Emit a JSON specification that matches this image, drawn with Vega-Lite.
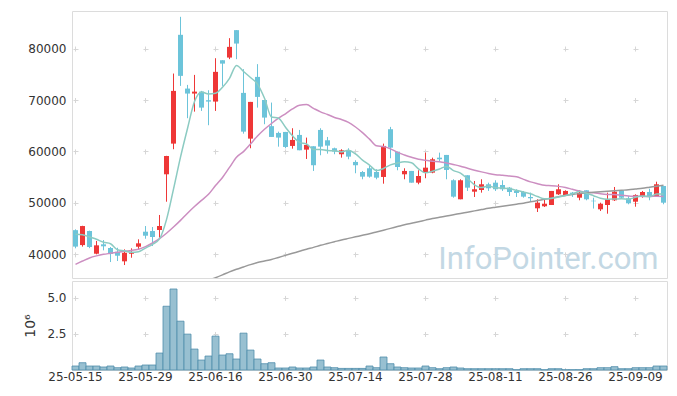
{
  "$schema": "https://vega.github.io/schema/vega-lite/v6.json",
  "padding": {"left": 23, "top": 10, "right": 0, "bottom": 0},
  "background": "white",
  "spacing": 1,
  "config": {
    "view": {"stroke": "#dcdcdc", "strokeWidth": 1},
    "axis": {"labelFont": "DejaVu Sans", "labelFontSize": 12, "labelColor": "#333333", "titleFont": "DejaVu Sans", "titleFontSize": 14, "titleFontWeight": "normal", "titleColor": "#333333", "gridColor": "#d6d6d6", "gridWidth": 1}
  },
  "resolve": {"scale": {"x": "independent"}},
  "data": {"values": [
    {"d":"25-05-15","o":44700,"h":44860,"l":41170,"c":41500,"v":276000,"m5":43890,"m20":38050},
    {"d":"25-05-16","o":41800,"h":45550,"l":41500,"c":45500,"v":504000,"m5":43830,"m20":38700},
    {"d":"25-05-19","o":44530,"h":44600,"l":41200,"c":41420,"v":276000,"m5":43370,"m20":39300},
    {"d":"25-05-20","o":40120,"h":42600,"l":40000,"c":41750,"v":276000,"m5":42920,"m20":39700},
    {"d":"25-05-21","o":41950,"h":42780,"l":40780,"c":41560,"v":207000,"m5":42346,"m20":40000},
    {"d":"25-05-22","o":41230,"h":41420,"l":38500,"c":40060,"v":276000,"m5":42058,"m20":40200},
    {"d":"25-05-23","o":40500,"h":41280,"l":38700,"c":39730,"v":159000,"m5":40904,"m20":40400},
    {"d":"25-05-26","o":38640,"h":40970,"l":37920,"c":40310,"v":207000,"m5":40682,"m20":40600},
    {"d":"25-05-27","o":40120,"h":41170,"l":39340,"c":40310,"v":138000,"m5":40394,"m20":40750},
    {"d":"25-05-28","o":41480,"h":42920,"l":40840,"c":42140,"v":276000,"m5":40510,"m20":41000},
    {"d":"25-05-29","o":44400,"h":45500,"l":43030,"c":43620,"v":345000,"m5":41222,"m20":41500},
    {"d":"25-05-30","o":44530,"h":45310,"l":41610,"c":43370,"v":345000,"m5":41950,"m20":42200},
    {"d":"25-06-02","o":44730,"h":47650,"l":43230,"c":45510,"v":1174000,"m5":42990,"m20":43050},
    {"d":"25-06-04","o":55560,"h":59150,"l":50230,"c":59120,"v":4420000,"m5":46752,"m20":44100},
    {"d":"25-06-05","o":61520,"h":75140,"l":60430,"c":71770,"v":5615000,"m5":52678,"m20":45300},
    {"d":"25-06-09","o":82670,"h":86170,"l":72740,"c":74690,"v":3384000,"m5":58892,"m20":46600},
    {"d":"25-06-10","o":72220,"h":72940,"l":66460,"c":71250,"v":2486000,"m5":64468,"m20":48000},
    {"d":"25-06-11","o":71250,"h":74880,"l":67740,"c":71630,"v":1450000,"m5":69692,"m20":49300},
    {"d":"25-06-12","o":71630,"h":71770,"l":67880,"c":68520,"v":690000,"m5":71572,"m20":50500,"m60":34500},
    {"d":"25-06-13","o":69960,"h":71900,"l":65100,"c":69690,"v":967000,"m5":71156,"m20":51672,"m60":35000},
    {"d":"25-06-16","o":69690,"h":78120,"l":67880,"c":75470,"v":2348000,"m5":71312,"m20":53371,"m60":35450},
    {"d":"25-06-17","o":77730,"h":77730,"l":72740,"c":77070,"v":1036000,"m5":72476,"m20":54950,"m60":36000},
    {"d":"25-06-18","o":78250,"h":82020,"l":77940,"c":80330,"v":1126000,"m5":74216,"m20":56895,"m60":36600},
    {"d":"25-06-19","o":83580,"h":83580,"l":77940,"c":80970,"v":760000,"m5":76706,"m20":58856,"m60":37100},
    {"d":"25-06-20","o":71380,"h":75990,"l":63460,"c":63850,"v":2555000,"m5":75538,"m20":59971,"m60":37550},
    {"d":"25-06-23","o":62490,"h":69630,"l":60620,"c":69630,"v":1381000,"m5":74370,"m20":61449,"m60":38000},
    {"d":"25-06-24","o":74490,"h":76970,"l":68520,"c":70600,"v":760000,"m5":73076,"m20":62993,"m60":38400},
    {"d":"25-06-25","o":70000,"h":70000,"l":65290,"c":66580,"v":435000,"m5":70326,"m20":64306,"m60":38700},
    {"d":"25-06-26","o":64920,"h":69500,"l":62820,"c":62820,"v":504000,"m5":66696,"m20":65432,"m60":39000},
    {"d":"25-06-27","o":63600,"h":63850,"l":60930,"c":62690,"v":138000,"m5":66464,"m20":66459,"m60":39400},
    {"d":"25-06-30","o":63790,"h":63800,"l":60620,"c":60870,"v":138000,"m5":64712,"m20":67322,"m60":39800},
    {"d":"25-07-01","o":61070,"h":64510,"l":60540,"c":62240,"v":207000,"m5":63040,"m20":68265,"m60":40200},
    {"d":"25-07-02","o":63210,"h":64180,"l":60230,"c":60230,"v":138000,"m5":61770,"m20":69001,"m60":40600},
    {"d":"25-07-03","o":60350,"h":62690,"l":58540,"c":61260,"v":138000,"m5":61458,"m20":69108,"m60":41000},
    {"d":"25-07-04","o":61010,"h":61010,"l":56210,"c":57320,"v":207000,"m5":60384,"m20":68386,"m60":41350},
    {"d":"25-07-07","o":64180,"h":64510,"l":59260,"c":60930,"v":690000,"m5":60396,"m20":67698,"m60":41750},
    {"d":"25-07-08","o":62170,"h":62820,"l":59570,"c":61130,"v":207000,"m5":60174,"m20":67192,"m60":42100},
    {"d":"25-07-09","o":60620,"h":60740,"l":59460,"c":59960,"v":160000,"m5":60120,"m20":66608,"m60":42450},
    {"d":"25-07-10","o":59455,"h":60430,"l":58790,"c":60230,"v":110000,"m5":59914,"m20":66194,"m60":42800},
    {"d":"25-07-11","o":60230,"h":60620,"l":58480,"c":58990,"v":110000,"m5":60248,"m20":65659,"m60":43100},
    {"d":"25-07-14","o":57960,"h":58290,"l":55760,"c":57320,"v":110000,"m5":59526,"m20":64751,"m60":43400},
    {"d":"25-07-15","o":56010,"h":56210,"l":54590,"c":55100,"v":110000,"m5":58320,"m20":63653,"m60":43700},
    {"d":"25-07-16","o":56730,"h":57180,"l":54900,"c":55100,"v":276000,"m5":57348,"m20":62391,"m60":44000},
    {"d":"25-07-17","o":56010,"h":56540,"l":54590,"c":54900,"v":160000,"m5":56282,"m20":61088,"m60":44350},
    {"d":"25-07-18","o":55040,"h":61520,"l":53735,"c":61070,"v":900000,"m5":56698,"m20":60949,"m60":44700},
    {"d":"25-07-21","o":64320,"h":64770,"l":58680,"c":60740,"v":435000,"m5":57382,"m20":60504,"m60":45050},
    {"d":"25-07-22","o":59960,"h":59960,"l":56340,"c":56980,"v":207000,"m5":57758,"m20":59823,"m60":45400},
    {"d":"25-07-23","o":55560,"h":56730,"l":54590,"c":56210,"v":160000,"m5":57980,"m20":59305,"m60":45750},
    {"d":"25-07-24","o":56210,"h":56210,"l":53930,"c":53930,"v":138000,"m5":57786,"m20":58860,"m60":46050},
    {"d":"25-07-25","o":53930,"h":56340,"l":53620,"c":55230,"v":138000,"m5":56618,"m20":58487,"m60":46350},
    {"d":"25-07-28","o":55880,"h":59770,"l":54790,"c":56850,"v":276000,"m5":55840,"m20":58286,"m60":46650},
    {"d":"25-07-29","o":55880,"h":58790,"l":55760,"c":58480,"v":160000,"m5":56140,"m20":58098,"m60":46950},
    {"d":"25-07-30","o":58790,"h":59770,"l":58150,"c":58480,"v":90000,"m5":56594,"m20":58011,"m60":47200},
    {"d":"25-07-31","o":59320,"h":59320,"l":54590,"c":56400,"v":160000,"m5":57088,"m20":57768,"m60":47450},
    {"d":"25-08-01","o":54400,"h":54590,"l":51010,"c":51210,"v":207000,"m5":56284,"m20":57462,"m60":47700},
    {"d":"25-08-04","o":50700,"h":54590,"l":50700,"c":54400,"v":138000,"m5":55794,"m20":57136,"m60":47950},
    {"d":"25-08-05","o":55370,"h":55370,"l":52320,"c":52960,"v":90000,"m5":54690,"m20":56727,"m60":48200},
    {"d":"25-08-06","o":52180,"h":54260,"l":51150,"c":52650,"v":90000,"m5":53524,"m20":56362,"m60":48450},
    {"d":"25-08-07","o":52510,"h":54590,"l":51990,"c":53620,"v":90000,"m5":52968,"m20":56031,"m60":48700},
    {"d":"25-08-08","o":53620,"h":53930,"l":52320,"c":52840,"v":90000,"m5":53294,"m20":55724,"m60":48950},
    {"d":"25-08-11","o":53930,"h":54400,"l":52320,"c":52650,"v":90000,"m5":52944,"m20":55490,"m60":49150},
    {"d":"25-08-12","o":53480,"h":54400,"l":52320,"c":52650,"v":90000,"m5":52882,"m20":55368,"m60":49350},
    {"d":"25-08-13","o":52960,"h":53090,"l":51340,"c":52120,"v":90000,"m5":52776,"m20":55219,"m60":49550},
    {"d":"25-08-14","o":52320,"h":52650,"l":51150,"c":51930,"v":20000,"m5":52438,"m20":55070,"m60":49750},
    {"d":"25-08-18","o":52120,"h":52320,"l":51010,"c":51210,"v":90000,"m5":52112,"m20":54577,"m60":49950},
    {"d":"25-08-19","o":51150,"h":52000,"l":50370,"c":50900,"v":90000,"m5":51762,"m20":54085,"m60":50200},
    {"d":"25-08-20","o":48950,"h":50700,"l":48230,"c":50040,"v":90000,"m5":51240,"m20":53738,"m60":50450},
    {"d":"25-08-21","o":49340,"h":50700,"l":49200,"c":49840,"v":20000,"m5":50784,"m20":53420,"m60":50700},
    {"d":"25-08-22","o":49590,"h":52320,"l":49590,"c":52320,"v":90000,"m5":50862,"m20":53339,"m60":50950},
    {"d":"25-08-25","o":51670,"h":53620,"l":51540,"c":52650,"v":90000,"m5":51150,"m20":53210,"m60":51200},
    {"d":"25-08-26","o":51540,"h":52450,"l":51340,"c":52320,"v":20000,"m5":51434,"m20":52984,"m60":51450},
    {"d":"25-08-27","o":51990,"h":52120,"l":51150,"c":51670,"v":20000,"m5":51760,"m20":52643,"m60":51650},
    {"d":"25-08-28","o":51010,"h":52450,"l":50505,"c":51990,"v":20000,"m5":52190,"m20":52319,"m60":51800},
    {"d":"25-08-29","o":52450,"h":52450,"l":50505,"c":50700,"v":90000,"m5":51866,"m20":52034,"m60":51950},
    {"d":"25-09-01","o":50420,"h":51010,"l":48900,"c":50320,"v":90000,"m5":51400,"m20":51989,"m60":52050},
    {"d":"25-09-02","o":48750,"h":50040,"l":48420,"c":49840,"v":160000,"m5":50904,"m20":51761,"m60":52150},
    {"d":"25-09-03","o":49590,"h":51990,"l":47900,"c":50700,"v":160000,"m5":50710,"m20":51648,"m60":52250},
    {"d":"25-09-04","o":50505,"h":53090,"l":50370,"c":52180,"v":230000,"m5":50748,"m20":51625,"m60":52350},
    {"d":"25-09-05","o":52450,"h":52450,"l":50900,"c":51010,"v":90000,"m5":50810,"m20":51494,"m60":52450},
    {"d":"25-09-08","o":50900,"h":51340,"l":49730,"c":49920,"v":90000,"m5":50730,"m20":51348,"m60":52550},
    {"d":"25-09-09","o":50230,"h":51670,"l":49260,"c":51540,"v":160000,"m5":51070,"m20":51293,"m60":52700},
    {"d":"25-09-10","o":51340,"h":52320,"l":51010,"c":52120,"v":160000,"m5":51354,"m20":51266,"m60":52850},
    {"d":"25-09-11","o":52120,"h":52760,"l":50505,"c":51340,"v":160000,"m5":51186,"m20":51227,"m60":53050},
    {"d":"25-09-12","o":51340,"h":54120,"l":51340,"c":53620,"v":276000,"m5":51708,"m20":51312,"m60":53250},
    {"d":"25-09-15","o":53290,"h":53290,"l":49730,"c":50040,"v":276000,"m5":51732,"m20":51253,"m60":53450}
  ]},
  "vconcat": [
    {
      "width": 595,
      "height": 267,
      "encoding": {
        "x": {"field": "d", "type": "ordinal",
          "scale": {"type": "band", "paddingInner": 0, "paddingOuter": 0},
          "axis": {"values": ["25-05-15","25-05-29","25-06-16","25-06-30","25-07-14","25-07-28","25-08-11","25-08-26","25-09-09"],
            "labels": false, "ticks": false, "domain": false, "title": null, "grid": true, "bandPosition": 0.5,
            "gridDash": [5, 46.445], "gridDashOffset": 16.4}}
      },
      "layer": [
        {
          "data": {"values": [{"t": "InfoPointer.com"}]},
          "mark": {"type": "text", "align": "right", "baseline": "alphabetic", "font": "Roboto", "fontSize": 31, "fontWeight": "normal", "color": "#c3d8e4", "dx": -5},
          "encoding": {
            "x": {"datum": "25-09-15"},
            "y": {"datum": 37140, "type": "quantitative"},
            "text": {"field": "t"}
          }
        },
        {
          "mark": {"type": "rule", "strokeWidth": 1},
          "encoding": {
            "y": {"field": "l", "type": "quantitative",
              "scale": {"domain": [35400, 87300], "nice": false, "zero": false},
              "axis": {"values": [40000, 50000, 60000, 70000, 80000], "format": "d", "title": null, "ticks": false, "tickSize": 0, "domain": false, "labelPadding": 6,
                "grid": true, "gridDash": [5, 65], "gridDashOffset": 69}},
            "y2": {"field": "h"},
            "color": {"condition": {"test": "datum.c >= datum.o", "value": "#ee3737"}, "value": "#6cc4da"}
          }
        },
        {
          "mark": {"type": "bar", "width": {"band": 0.72}},
          "encoding": {
            "y": {"field": "o", "type": "quantitative"},
            "y2": {"field": "c"},
            "color": {"condition": {"test": "datum.c >= datum.o", "value": "#ee3737"}, "value": "#6cc4da"}
          }
        },
        {
          "mark": {"type": "line", "color": "#cc8ec1", "strokeWidth": 1.5, "interpolate": "monotone", "clip": true},
          "encoding": {"y": {"field": "m20", "type": "quantitative"}}
        },
        {
          "mark": {"type": "line", "color": "#999999", "strokeWidth": 1.5, "interpolate": "monotone", "clip": true},
          "encoding": {"y": {"field": "m60", "type": "quantitative"}}
        },
        {
          "mark": {"type": "line", "color": "#8ccbc2", "strokeWidth": 1.5, "interpolate": "monotone", "clip": true},
          "encoding": {"y": {"field": "m5", "type": "quantitative"}}
        }
      ]
    },
    {
      "width": 595,
      "height": 89,
      "mark": {"type": "bar", "fill": "#98c0d1", "stroke": "#4f8dab", "strokeWidth": 0.8},
      "encoding": {
        "x": {"field": "d", "type": "ordinal",
          "scale": {"type": "band", "paddingInner": 0, "paddingOuter": 0},
          "axis": {"values": ["25-05-15","25-05-29","25-06-16","25-06-30","25-07-14","25-07-28","25-08-11","25-08-26","25-09-09"],
            "labelAngle": 0, "ticks": false, "tickSize": 0, "domain": false, "title": null, "labelPadding": 1, "grid": true, "bandPosition": 0.5,
            "gridDash": [5, 31.06], "gridDashOffset": 21.66}},
        "y": {"field": "v", "type": "quantitative",
          "scale": {"domain": [0, 6170000], "nice": false},
          "axis": {"values": [2500000, 5000000], "labelExpr": "format(datum.value / 1000000, '.1f')", "title": "10⁶", "titlePadding": 9,
            "ticks": false, "tickSize": 0, "domain": false, "labelPadding": 6, "grid": true, "gridDash": [5, 65], "gridDashOffset": 69}}
      }
    }
  ]
}
